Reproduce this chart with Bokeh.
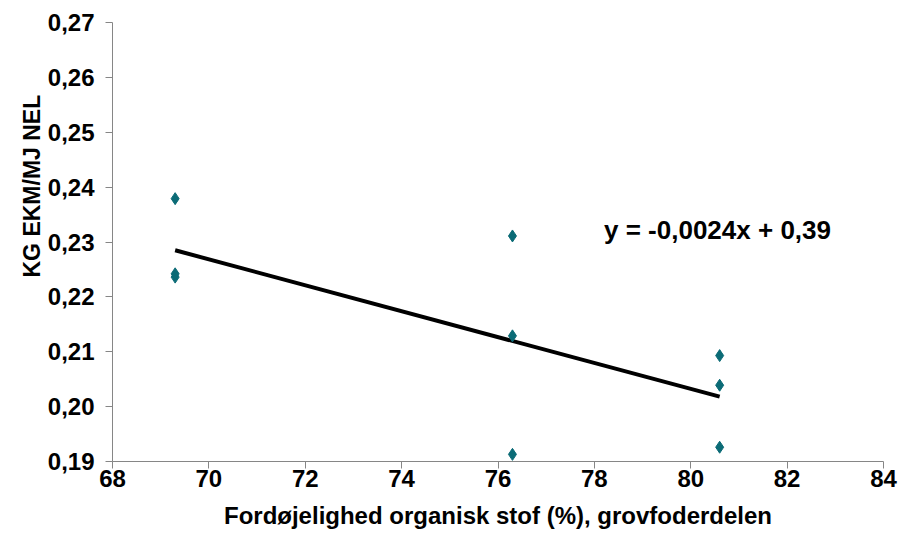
import numpy as np
from bokeh.plotting import figure
from bokeh.models import Range1d, Label, Title, CustomJSTickFormatter, FixedTicker, ColumnDataSource
from bokeh.embed import file_html
from bokeh.resources import INLINE

# Data
digestibility = [69.3, 69.3, 69.3, 76.3, 76.3, 76.3, 80.6, 80.6, 80.6]
kg_ekm_per_mj = [0.2379, 0.2236, 0.2242, 0.2311, 0.2129, 0.1913, 0.2093, 0.2039, 0.1926]
x_ticks = [68, 70, 72, 74, 76, 78, 80, 82, 84]
y_ticks = [0.19, 0.20, 0.21, 0.22, 0.23, 0.24, 0.25, 0.26, 0.27]
x_label = "Fordøjelighed organisk stof (%), grovfoderdelen"
y_label = "KG EKM/MJ NEL"
equation = "y = -0,0024x + 0,39"

FONT = "Liberation Sans"
AXIS_COLOR = "#868686"
POINT_COLOR = "#0B6B76"

W, H = 900, 536
LEFT, TOP, RIGHT, BOTTOM = 112, 22, 17, 75

p = figure(width=W, height=H, output_backend="svg", toolbar_location=None,
           x_range=Range1d(68, 84), y_range=Range1d(0.19, 0.27),
           min_border_left=LEFT, min_border_right=RIGHT, min_border_top=TOP,
           min_border_bottom=BOTTOM)
p.outline_line_color = None
p.xgrid.visible = False
p.ygrid.visible = False
p.background_fill_color = "white"
p.border_fill_color = "white"

for ax in (p.xaxis[0], p.yaxis[0]):
    ax.axis_line_color = AXIS_COLOR
    ax.major_tick_line_color = AXIS_COLOR
    ax.minor_tick_line_color = None
    ax.major_tick_out = 7
    ax.major_tick_in = 0
    ax.major_label_text_font = FONT
    ax.major_label_text_font_style = "bold"
    ax.major_label_text_color = "black"
    ax.major_label_text_font_size = "24px"

p.xaxis.ticker = FixedTicker(ticks=x_ticks)
p.yaxis.ticker = FixedTicker(ticks=y_ticks)
p.yaxis.formatter = CustomJSTickFormatter(code="return tick.toFixed(2).replace('.', ',');")
p.yaxis.major_label_standoff = 11
p.xaxis.major_label_standoff = 1

p.xaxis.axis_label = x_label
p.xaxis.axis_label_text_font = FONT
p.xaxis.axis_label_text_font_style = "bold"
p.xaxis.axis_label_text_font_size = "24px"
p.xaxis.axis_label_text_color = "black"
p.xaxis.axis_label_standoff = 12

src = ColumnDataSource(dict(x=digestibility, y=kg_ekm_per_mj))

# trend line (least squares)
slope, intercept = np.polyfit(digestibility, kg_ekm_per_mj, 1)
xs = [min(digestibility), max(digestibility)]
ys = [slope * v + intercept for v in xs]
p.line(xs, ys, line_color="black", line_width=4)

p.scatter("x", "y", source=src, marker="diamond", size=12, fill_color=POINT_COLOR,
          line_color=POINT_COLOR)

p.add_layout(Label(x=78.2, y=0.2321, text=equation, text_font=FONT, text_font_style="bold",
                   text_font_size="26px", text_baseline="middle", text_align="left",
                   text_color="black"))

# y-axis title as a vertical title in the left panel, shifted up from the frame bottom
p.add_layout(Title(text=y_label, align="left", offset=184, text_font=FONT,
                   text_font_style="bold", text_font_size="23px", text_color="black",
                   standoff=0), "left")

open("out.html", "w").write(file_html(p, INLINE))
